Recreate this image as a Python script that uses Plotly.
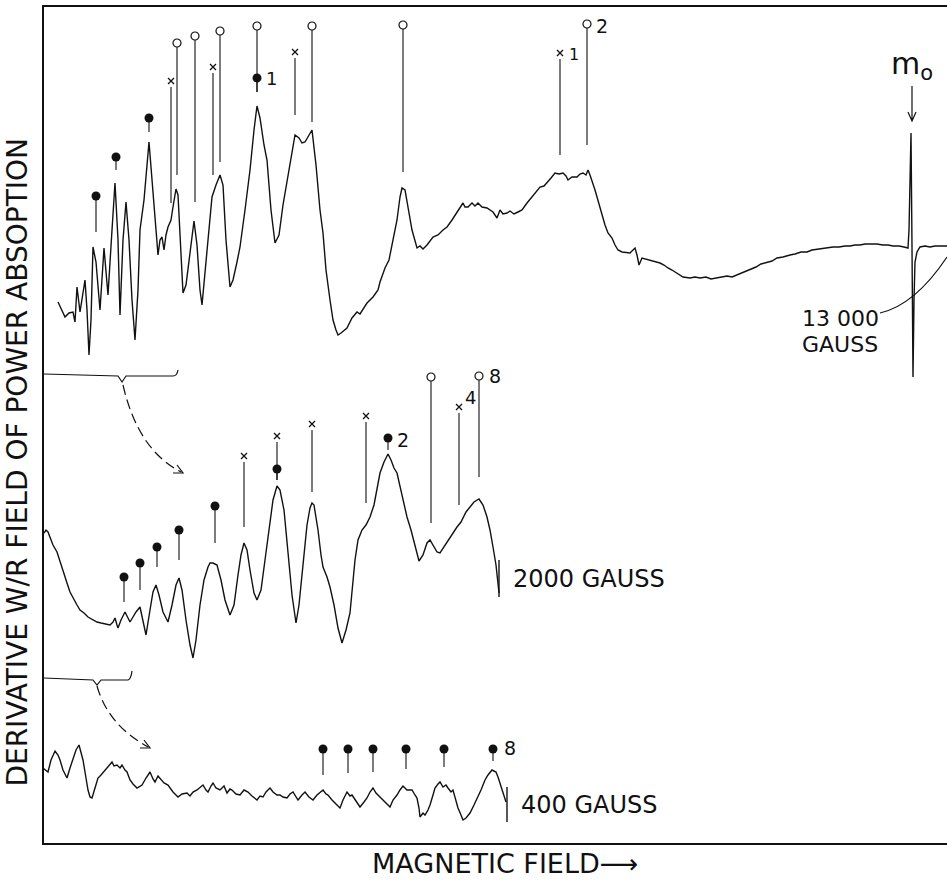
import plotly.graph_objects as go

# ---------------- data ----------------
# x: magnetic field (arbitrary chart units), y: derivative signal (arbitrary units)

# upper full sweep (to 13 000 gauss)
top_x = [58, 62, 65, 69, 73, 75, 77, 80, 83, 85,
         87, 89, 91, 93, 96, 100, 104, 106, 108, 112,
         115, 118, 120, 123, 126, 129, 132, 135, 138, 140,
         144, 149, 153, 156, 158, 160, 162, 164, 166, 168,
         171, 173, 176, 178, 180, 183, 186, 190, 194, 197,
         200, 202, 205, 209, 212, 216, 220, 223, 226, 230,
         233, 237, 240, 245, 250, 254, 257, 260, 264, 267,
         271, 275, 279, 283, 287, 291, 295, 299, 302, 305,
         308, 312, 316, 320, 323, 326, 330, 333, 336, 338,
         341, 347, 352, 357, 360, 367, 373, 378, 380, 385,
         389, 393, 397, 400, 402, 405, 408, 412, 417, 420,
         423, 427, 433, 438, 443, 447, 452, 457, 460, 463,
         465, 468, 472, 475, 478, 482, 487, 490, 493, 497,
         500, 503, 507, 510, 514, 518, 522, 527, 532, 537,
         540, 544, 547, 551, 555, 559, 563, 566, 568, 572,
         577, 580, 583, 586, 588, 590, 595, 600, 605, 608,
         612, 615, 618, 622, 627, 630, 633, 635, 637, 639,
         642, 646, 650, 655, 660, 664, 668, 672, 677, 683,
         690, 695, 700, 706, 711, 717, 722, 727, 732, 737,
         743, 750, 756, 761, 767, 772, 777, 783, 790, 795,
         801, 807, 812, 818, 823, 827, 833, 839, 845, 850,
         855, 860, 865, 872, 877, 883, 888, 893, 899, 904,
         908, 909, 910, 911, 912, 913, 914, 915, 917, 920,
         925, 930, 935, 940, 947]
top_y = [541, 533, 526, 530, 531, 521, 556, 531, 548, 563,
         533, 488, 523, 596, 581, 533, 595, 573, 548, 613,
         660, 603, 528, 603, 641, 603, 543, 503, 553, 613,
         643, 701, 653, 608, 588, 603, 606, 593, 608, 616,
         623, 636, 654, 648, 603, 550, 558, 593, 622, 598,
         553, 538, 573, 618, 646, 658, 668, 658, 603, 556,
         563, 581, 596, 633, 673, 713, 737, 725, 698, 683,
         633, 600, 608, 638, 661, 688, 708, 705, 700, 701,
         706, 713, 678, 633, 610, 573, 543, 523, 513, 508,
         510, 515, 525, 531, 529, 540, 546, 553, 561, 575,
         583, 603, 623, 646, 655, 653, 636, 613, 595, 597,
         594, 598, 606, 608, 613, 616, 623, 631, 635, 640,
         636, 636, 640, 637, 640, 636, 635, 633, 631, 625,
         633, 629, 630, 632, 629, 631, 633, 640, 646, 653,
         656, 657, 660, 665, 670, 669, 670, 667, 663, 666,
         666, 669, 670, 668, 673, 668, 653, 635, 618, 610,
         605, 598, 593, 591, 590, 590, 593, 595, 588, 578,
         585, 584, 583, 581, 580, 578, 575, 573, 570, 566,
         565, 566, 565, 566, 564, 565, 566, 567, 566, 568,
         570, 573, 576, 579, 581, 582, 585, 586, 588, 589,
         591, 591, 593, 594, 595, 595, 596, 596, 597, 597,
         598, 598, 599, 599, 599, 598, 598, 597, 597, 596,
         595, 613, 663, 710, 596, 466, 543, 581, 591, 596,
         597, 596, 597, 597, 597]

# middle sweep (expanded, 2000 gauss scale)
mid_x = [44, 46, 48, 50, 53, 57, 60, 63, 67, 70,
         74, 77, 80, 84, 88, 93, 97, 101, 105, 110,
         113, 115, 117, 118, 121, 125, 128, 130, 133, 136,
         140, 143, 146, 150, 153, 156, 159, 163, 168, 172,
         176, 179, 182, 186, 190, 193, 196, 200, 204, 208,
         210, 213, 217, 221, 225, 230, 234, 238, 241, 244,
         247, 250, 254, 257, 261, 265, 269, 273, 277, 280,
         284, 288, 292, 296, 299, 303, 307, 310, 312, 314,
         318, 321, 323, 327, 330, 334, 338, 342, 346, 350,
         353, 355, 358, 362, 366, 370, 374, 377, 380, 384,
         388, 391, 394, 397, 401, 404, 407, 411, 415, 419,
         423, 427, 430, 433, 437, 440, 444, 448, 452, 457,
         461, 466, 470, 474, 479, 483, 487, 490, 493, 496,
         499]
mid_y = [310, 313, 311, 305, 298, 291, 281, 271, 260, 251,
         243, 238, 233, 230, 226, 223, 221, 220, 219, 218,
         221, 225, 218, 215, 223, 231, 225, 221, 226, 231,
         236, 223, 208, 233, 251, 258, 248, 231, 221, 238,
         258, 265, 253, 223, 198, 185, 203, 238, 263, 276,
         280, 280, 278, 263, 243, 228, 238, 268, 288, 300,
         293, 273, 250, 243, 253, 283, 313, 343, 357, 353,
         333, 293, 248, 220, 238, 278, 318, 335, 340, 338,
         313, 288, 276, 266, 256, 238, 215, 200, 213, 230,
         258, 283, 303, 313, 318, 326, 338, 355, 370, 381,
         389, 383, 375, 370, 353, 338, 326, 313, 296, 282,
         288, 300, 303, 298, 291, 290, 296, 303, 309, 316,
         321, 331, 336, 341, 344, 338, 326, 313, 296, 278,
         250]

# lower sweep (expanded, 400 gauss scale)
bot_x = [43, 46, 48, 51, 55, 58, 60, 63, 67, 70,
         73, 76, 79, 81, 83, 86, 88, 90, 92, 95,
         98, 101, 105, 108, 112, 114, 117, 120, 122, 125,
         127, 130, 133, 137, 140, 142, 146, 150, 153, 155,
         158, 160, 164, 168, 171, 173, 176, 178, 182, 187,
         190, 193, 197, 200, 203, 206, 208, 211, 213, 216,
         220, 224, 227, 230, 232, 236, 240, 244, 248, 252,
         257, 260, 263, 266, 270, 273, 277, 280, 283, 287,
         290, 293, 296, 298, 302, 305, 309, 313, 317, 320,
         323, 326, 328, 332, 336, 340, 343, 347, 350, 352,
         356, 360, 364, 367, 370, 373, 376, 380, 384, 387,
         390, 393, 397, 400, 403, 407, 412, 415, 417, 419,
         420, 423, 425, 428, 430, 433, 435, 438, 440, 443,
         446, 448, 451, 453, 456, 458, 461, 463, 466, 470,
         474, 478, 481, 485, 488, 492, 494, 496, 498, 500,
         502, 504, 506]
bot_y = [75, 73, 71, 83, 92, 88, 83, 73, 65, 75,
         85, 93, 98, 91, 83, 65, 53, 46, 45, 55,
         65, 68, 73, 76, 81, 77, 78, 75, 78, 73,
         71, 63, 59, 55, 57, 58, 65, 71, 64, 61,
         67, 65, 60, 58, 53, 51, 48, 46, 49, 50,
         47, 51, 53, 56, 58, 53, 51, 57, 60, 55,
         53, 57, 50, 54, 53, 49, 48, 53, 51, 47,
         43, 47, 46, 51, 55, 51, 48, 48, 46, 45,
         49, 51, 46, 43, 48, 51, 46, 43, 48, 51,
         53, 49, 48, 43, 39, 35, 43, 51, 47, 48,
         42, 36, 41, 45, 51, 55, 50, 46, 42, 39,
         36, 43, 48, 53, 57, 53, 53, 48, 45, 35,
         26, 30, 28, 33, 38, 48, 55, 59, 61, 56,
         58, 55, 51, 53, 43, 35, 28, 23, 25, 30,
         38, 46, 53, 63, 68, 73, 72, 71, 66, 60,
         54, 48, 41]

# line assignments: marker position and the peak each stem points to
top_filled_x = [96, 116, 149, 257]
top_filled_y = [647, 686, 725, 765]
top_filled_end = [611, 673, 711, 751]
top_open_x = [177, 195, 220, 257, 312, 403, 587]
top_open_y = [800, 807, 812, 817, 817, 818, 819]
top_open_end = [668, 641, 681, 751, 721, 671, 698]
top_cross_x = [171, 213, 295, 560]
top_cross_y = [762, 776, 791, 790]
top_cross_end = [640, 668, 728, 688]

mid_filled_x = [124, 140, 157, 179, 215, 277, 388]
mid_filled_y = [266, 280, 296, 313, 337, 374, 405]
mid_filled_end = [241, 253, 276, 283, 300, 363, 393]
mid_cross_x = [244, 277, 312, 366, 459]
mid_cross_y = [387, 407, 419, 427, 436]
mid_cross_end = [316, 363, 351, 340, 338]
mid_open_x = [431, 479]
mid_open_y = [466, 467]
mid_open_end = [320, 366]

bot_filled_x = [323, 348, 373, 406, 444, 493]
bot_filled_y = [94, 94, 94, 94, 94, 94]
bot_filled_end = [68, 70, 71, 74, 76, 82]

# order labels next to markers
label_text = ["1", "1", "2", "2", "4", "8", "8"]
label_x = [264, 567, 594, 395, 463, 487, 502]
label_y = [765, 789, 817, 403, 446, 467, 95]
label_size = [18, 16, 19, 19, 18, 19, 19]

# scale bars
scale_x = [499, 507]
scale_lo = [246, 21]
scale_hi = [283, 56]
scale_text = ["2000 GAUSS", "400 GAUSS"]

# ---------------- figure ----------------
INK = "#111111"
FONT = "DejaVu Sans"
fig = go.Figure()


def add_curve(x, y, width=1.4):
    fig.add_trace(go.Scatter(x=x, y=y, mode="lines",
                             line=dict(color=INK, width=width),
                             hoverinfo="skip", showlegend=False))


def stems(xs, y0s, y1s, gap=0):
    sx, sy = [], []
    for a, b, c in zip(xs, y0s, y1s):
        sx += [a, a, None]
        sy += [b - gap, c, None]
    return sx, sy


add_curve(top_x, top_y)
add_curve(mid_x, mid_y)
add_curve(bot_x, bot_y)

# stems
for xs, ys, ends, gap in [
    (top_filled_x, top_filled_y, top_filled_end, 0),
    (top_open_x, top_open_y, top_open_end, 0),
    (top_cross_x, top_cross_y, top_cross_end, 6),
    (mid_filled_x, mid_filled_y, mid_filled_end, 0),
    (mid_cross_x, mid_cross_y, mid_cross_end, 6),
    (mid_open_x, mid_open_y, mid_open_end, 0),
    (bot_filled_x, bot_filled_y, bot_filled_end, 0),
]:
    sx, sy = stems(xs, ys, ends, gap)
    add_curve(sx, sy, width=1.1)

# scale bars
sx, sy = stems(scale_x, scale_hi, scale_lo)
add_curve(sx, sy, width=1.4)

# markers
filled_x = top_filled_x + mid_filled_x + bot_filled_x
filled_y = top_filled_y + mid_filled_y + bot_filled_y
fig.add_trace(go.Scatter(x=filled_x, y=filled_y, mode="markers",
                         marker=dict(symbol="circle", size=9, color=INK),
                         hoverinfo="skip", showlegend=False, cliponaxis=False))
open_x = top_open_x + mid_open_x
open_y = top_open_y + mid_open_y
fig.add_trace(go.Scatter(x=open_x, y=open_y, mode="markers",
                         marker=dict(symbol="circle", size=8, color="white",
                                     line=dict(color=INK, width=1.2)),
                         hoverinfo="skip", showlegend=False, cliponaxis=False))
cross_x = top_cross_x + mid_cross_x
cross_y = top_cross_y + mid_cross_y
fig.add_trace(go.Scatter(x=cross_x, y=cross_y, mode="markers",
                         marker=dict(symbol="x-thin", size=6,
                                     line=dict(color=INK, width=1.3)),
                         hoverinfo="skip", showlegend=False, cliponaxis=False))

annotations = []
for t, x, y, s in zip(label_text, label_x, label_y, label_size):
    annotations.append(dict(x=x, y=y, xref="x", yref="y", text=t, showarrow=False,
                            xanchor="left", yanchor="middle",
                            font=dict(family=FONT, size=s, color=INK)))
for t, x, y0, y1 in zip(scale_text, scale_x, scale_lo, scale_hi):
    annotations.append(dict(x=x, y=(y0 + y1) / 2, xref="x", yref="y", text=t,
                            showarrow=False, xanchor="left", yanchor="middle",
                            xshift=12, font=dict(family=FONT, size=24, color=INK)))

# m0 marker and 13 000 gauss label
annotations += [
    dict(x=912, y=778, xref="x", yref="y", text="m<sub>o</sub>", showarrow=False,
         xanchor="center", yanchor="middle", font=dict(family=FONT, size=30, color=INK)),
    dict(x=840, y=525, xref="x", yref="y", text="13 000", showarrow=False,
         xanchor="center", yanchor="middle", font=dict(family=FONT, size=22, color=INK)),
    dict(x=840, y=499, xref="x", yref="y", text="GAUSS", showarrow=False,
         xanchor="center", yanchor="middle", font=dict(family=FONT, size=22, color=INK)),
    # axis titles
    dict(x=-0.029, y=0.456, xref="paper", yref="paper", text="DERIVATIVE W/R FIELD OF POWER ABSOPTION",
         showarrow=False, textangle=-90, xanchor="center", yanchor="middle",
         font=dict(family=FONT, size=28, color=INK)),
    dict(x=0.51, y=-0.0455, xref="paper", yref="paper", text="MAGNETIC FIELD\u27f6",
         showarrow=False, xanchor="center", yanchor="bottom",
         font=dict(family=FONT, size=27, color=INK)),
]

thin = dict(color=INK, width=1.2)
shapes = [
    # brackets marking the expanded regions
    dict(type="path", xref="x", yref="y", path="M 44,469 L 118,467 L 122,461 L 126,467 L 173,467 Q 177,467 178,473",
         line=thin),
    dict(type="path", xref="x", yref="y", path="M 44,165 L 93,163 L 97,158 L 101,163 L 128,163 Q 131,164 132,172",
         line=thin),
    # dashed expansion arrows with open heads
    dict(type="path", xref="x", yref="y", path="M 123,458 Q 138,393 181,371",
         line=dict(color=INK, width=1.2, dash="10px,5px")),
    dict(type="path", xref="x", yref="y", path="M 173,370 L 183,370 L 177,378", line=thin),
    dict(type="path", xref="x", yref="y", path="M 97,157 Q 108,118 148,96",
         line=dict(color=INK, width=1.2, dash="10px,5px")),
    dict(type="path", xref="x", yref="y", path="M 140,95 L 150,95 L 144,103", line=thin),
    # m0 arrow
    dict(type="path", xref="x", yref="y", path="M 912,757 L 912,722 M 908,731 L 912,722 L 916,731",
         line=thin),
    # leader for 13 000 gauss
    dict(type="path", xref="x", yref="y", path="M 880,530 Q 915,538 947,586", line=thin),
]

fig.update_layout(
    width=947, height=882, autosize=False,
    margin=dict(l=44, r=0, t=7, b=39, pad=0),
    paper_bgcolor="white", plot_bgcolor="white",
    showlegend=False,
    annotations=annotations, shapes=shapes,
    xaxis=dict(range=[44, 947], showgrid=False, zeroline=False, showticklabels=False,
               ticks="", showline=True, linecolor=INK, linewidth=1.5, mirror=True,
               fixedrange=True),
    yaxis=dict(range=[0, 836], showgrid=False, zeroline=False, showticklabels=False,
               ticks="", showline=True, linecolor=INK, linewidth=1.5, mirror=False,
               fixedrange=True),
)

fig.write_html("out.html", config={"displayModeBar": False},
               post_script="document.body.style.margin='0px';document.body.style.padding='0px';")
